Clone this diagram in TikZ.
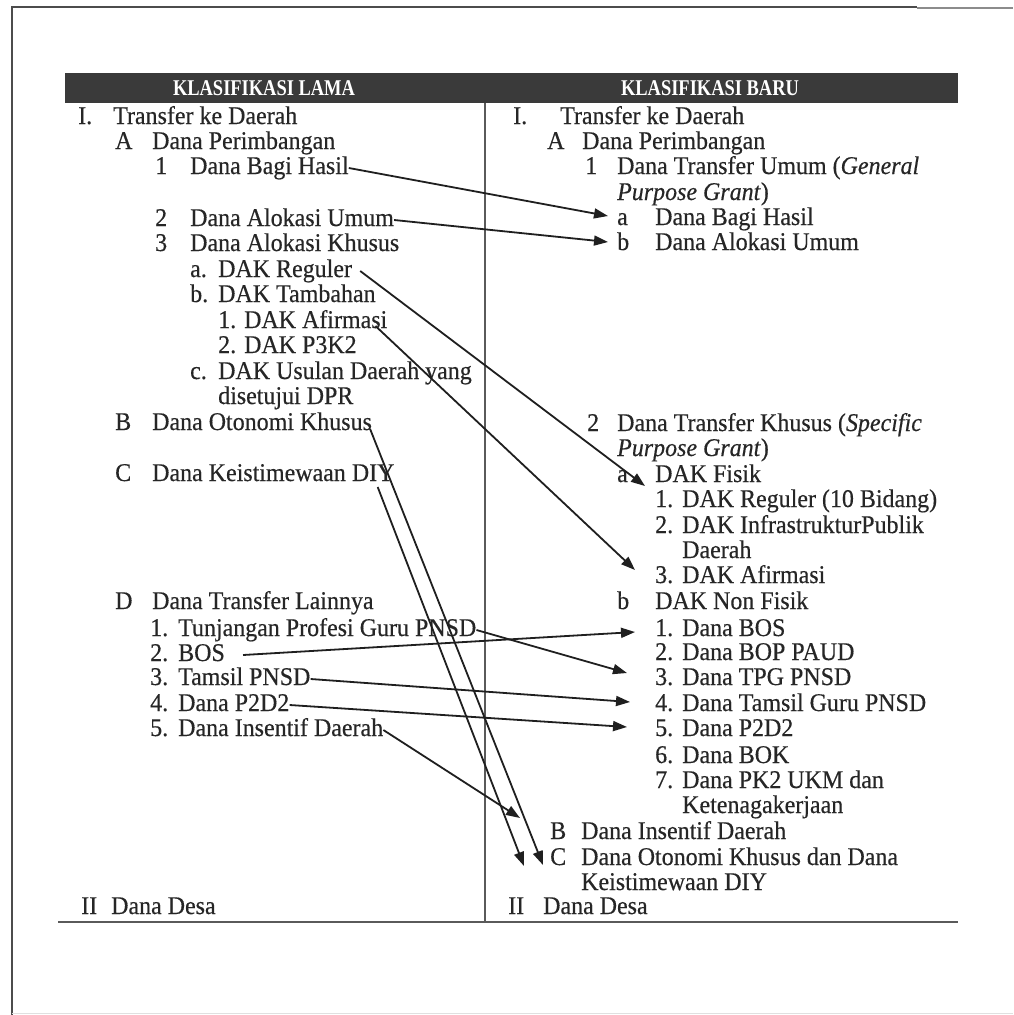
\documentclass[tikz,border=0pt]{standalone}
\usepackage{fontspec}
\setmainfont{Liberation Serif}[FakeStretch=0.94,FakeBold=0.4]
\newfontfamily\hdrfont{Liberation Serif}[FakeStretch=0.82]
\usetikzlibrary{arrows.meta}
\definecolor{ink}{HTML}{262626}
\definecolor{barcol}{HTML}{3A3A3A}
\definecolor{rulecol}{HTML}{5A5A5A}
\begin{document}
\begin{tikzpicture}[x=1pt,y=-1pt,
  txt/.style={anchor=west,inner sep=0pt,text=ink,font=\fontsize{25.5}{26}\selectfont,text height=17pt,text depth=5pt},
  htxt/.style={inner sep=0pt,text=white,font=\hdrfont\fontsize{22.5}{23}\selectfont\bfseries},
  arr/.style={draw=black!88,line width=1.8pt,-{Triangle[length=14pt,width=10pt]}},
  rulel/.style={draw=rulecol,line width=1.5pt}]
\useasboundingbox[fill=white] (0,0) rectangle (1013,1015);
% frame
\draw[draw=black!70,line width=1.6pt] (12,1015) -- (12,7) -- (917,7);
\draw[draw=black!45,line width=1.2pt] (917,8) -- (1013,8);
\draw[draw=black!12,line width=1pt] (12,1013) -- (1013,1013);
% header
\node[fill=barcol,minimum width=893pt,minimum height=30pt,inner sep=0pt,anchor=north west] (hdr) at (65,73) {};
\node[htxt] (hL) at (264,88.5) {KLASIFIKASI LAMA};
\node[htxt] (hR) at (710,88.5) {KLASIFIKASI BARU};
\draw[rulel] (485,103) -- (485,922);
\draw[rulel,line width=2pt] (58,922) -- (958,922);
% left column
\node[txt] (lIn) at (78,118) {I.};
\node[txt] (lI) at (113,118) {Transfer ke Daerah};
\node[txt] (lAn) at (115,143) {A};
\node[txt] (lA) at (152,143) {Dana Perimbangan};
\node[txt] (l1n) at (155,168) {1};
\node[txt] (l1) at (190,168) {Dana Bagi Hasil};
\node[txt] (l2n) at (155,220) {2};
\node[txt] (l2) at (190,220) {Dana Alokasi Umum};
\node[txt] (l3n) at (155,245) {3};
\node[txt] (l3) at (190,245) {Dana Alokasi Khusus};
\node[txt] (lan) at (190,271) {a.};
\node[txt] (la) at (218,271) {DAK Reguler};
\node[txt] (lbn) at (190,296) {b.};
\node[txt] (lb) at (218,296) {DAK Tambahan};
\node[txt] (lb1) at (218,322) {1. DAK Afirmasi};
\node[txt] (lb2) at (218,347) {2. DAK P3K2};
\node[txt] (lcn) at (190,373) {c.};
\node[txt] (lc) at (218,373) {DAK Usulan Daerah yang};
\node[txt] (lc2) at (218,398) {disetujui DPR};
\node[txt] (lBn) at (115,424) {B};
\node[txt] (lB) at (152,424) {Dana Otonomi Khusus};
\node[txt] (lCn) at (115,475) {C};
\node[txt] (lC) at (152,475) {Dana Keistimewaan DIY};
\node[txt] (lDn) at (115,603) {D};
\node[txt] (lD) at (152,603) {Dana Transfer Lainnya};
\node[txt] (lD1n) at (150,630) {1.};
\node[txt] (lD1) at (178,630) {Tunjangan Profesi Guru PNSD};
\node[txt] (lD2n) at (150,655) {2.};
\node[txt] (lD2) at (178,655) {BOS};
\node[txt] (lD3n) at (150,679) {3.};
\node[txt] (lD3) at (178,679) {Tamsil PNSD};
\node[txt] (lD4n) at (150,705) {4.};
\node[txt] (lD4) at (178,705) {Dana P2D2};
\node[txt] (lD5n) at (150,730) {5.};
\node[txt] (lD5) at (178,730) {Dana Insentif Daerah};
\node[txt] (lIIn) at (81,908) {II};
\node[txt] (lII) at (111,908) {Dana Desa};
% right column
\node[txt] (rIn) at (513,118) {I.};
\node[txt] (rI) at (560,118) {Transfer ke Daerah};
\node[txt] (rAn) at (547,143) {A};
\node[txt] (rA) at (582,143) {Dana Perimbangan};
\node[txt] (r1n) at (585,168) {1};
\node[txt] (r1) at (617,168) {Dana Transfer Umum (\textit{General}};
\node[txt] (r1pg) at (617,194) {\textit{Purpose Grant})};
\node[txt] (r1an) at (617,219) {a};
\node[txt] (r1a) at (655,219) {Dana Bagi Hasil};
\node[txt] (r1bn) at (617,244) {b};
\node[txt] (r1b) at (655,244) {Dana Alokasi Umum};
\node[txt] (r2n) at (587,425) {2};
\node[txt] (r2) at (617,425) {Dana Transfer Khusus (\textit{Specific}};
\node[txt] (r2pg) at (617,450) {\textit{Purpose Grant})};
\node[txt] (r2an) at (617,476) {a};
\node[txt] (r2a) at (655,476) {DAK Fisik};
\node[txt] (r2a1n) at (655,501) {1.};
\node[txt] (r2a1) at (682,501) {DAK Reguler (10 Bidang)};
\node[txt] (r2a2n) at (655,527) {2.};
\node[txt] (r2a2) at (682,527) {DAK InfrastrukturPublik};
\node[txt] (r2a2b) at (682,552) {Daerah};
\node[txt] (r2a3n) at (655,577) {3.};
\node[txt] (r2a3) at (682,577) {DAK Afirmasi};
\node[txt] (r2bn) at (617,603) {b};
\node[txt] (r2b) at (655,603) {DAK Non Fisik};
\node[txt] (rb1n) at (655,630) {1.};
\node[txt] (rb1) at (682,630) {Dana BOS};
\node[txt] (rb2n) at (655,654) {2.};
\node[txt] (rb2) at (682,654) {Dana BOP PAUD};
\node[txt] (rb3n) at (655,679) {3.};
\node[txt] (rb3) at (682,679) {Dana TPG PNSD};
\node[txt] (rb4n) at (655,705) {4.};
\node[txt] (rb4) at (682,705) {Dana Tamsil Guru PNSD};
\node[txt] (rb5n) at (655,730) {5.};
\node[txt] (rb5) at (682,730) {Dana P2D2};
\node[txt] (rb6n) at (655,757) {6.};
\node[txt] (rb6) at (682,757) {Dana BOK};
\node[txt] (rb7n) at (655,782) {7.};
\node[txt] (rb7) at (682,782) {Dana PK2 UKM dan};
\node[txt] (rb7b) at (682,807) {Ketenagakerjaan};
\node[txt] (rBn) at (550,833) {B};
\node[txt] (rB) at (581,833) {Dana Insentif Daerah};
\node[txt] (rCn) at (550,859) {C};
\node[txt] (rC) at (581,859) {Dana Otonomi Khusus dan Dana};
\node[txt] (rC2) at (581,884) {Keistimewaan DIY};
\node[txt] (rIIn) at (508,908) {II};
\node[txt] (rII) at (543,908) {Dana Desa};
% arrows
\draw[arr] (l1.east) -- ([xshift=-9pt,yshift=3pt]r1an.west);
\draw[arr] (l2.east) -- ([xshift=-9pt,yshift=2pt]r1bn.west);
\draw[arr] ([xshift=8pt]la.east) -- ([xshift=-10pt,yshift=-10pt]r2a.west);
\draw[arr] ([xshift=-12pt,yshift=-4pt]lb1.east) -- ([xshift=-20pt,yshift=7pt]r2a3n.west);
\draw[arr] ([xshift=-2pt,yshift=-5pt]lB.east) -- ([xshift=-7pt,yshift=-6pt]rCn.west);
\draw[arr] ([xshift=-17pt,yshift=-12pt]lC.east) -- ([xshift=-26pt,yshift=-7pt]rCn.west);
\draw[arr] (lD5.east) -- ([xshift=-30pt,yshift=15pt]rBn.west);
\draw[arr] ([xshift=18pt]lD2.east) -- ([xshift=-20pt,yshift=-2pt]rb1n.west);
\draw[arr] (lD1.east) -- ([xshift=-28pt,yshift=6pt]rb3n.west);
\draw[arr] (lD3.east) -- ([xshift=-25pt,yshift=3pt]rb4n.west);
\draw[arr] (lD4.east) -- ([xshift=-28pt,yshift=3pt]rb5n.west);
\end{tikzpicture}
\end{document}
